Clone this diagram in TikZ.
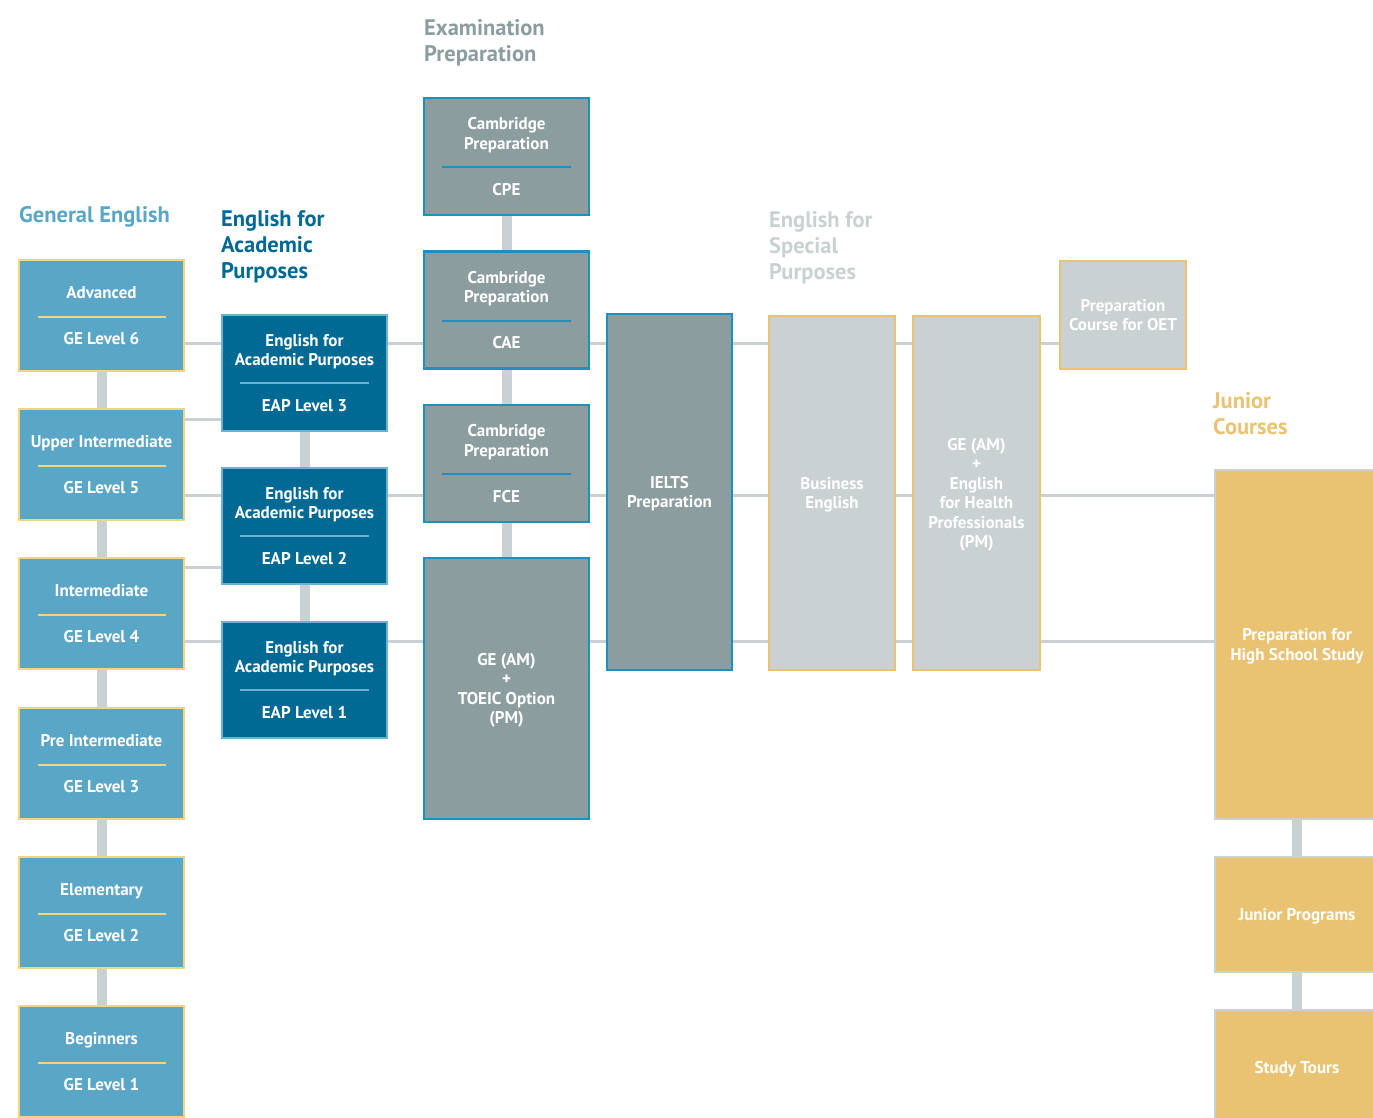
\documentclass[tikz,border=0pt]{standalone}
\usepackage{fontspec}
\setmainfont{PT Sans}
\usetikzlibrary{backgrounds}

\definecolor{geblue}{RGB}{90,166,199}
\definecolor{eapblue}{RGB}{0,106,149}
\definecolor{eapline}{RGB}{110,176,210}
\definecolor{examgray}{RGB}{140,157,160}
\definecolor{examline}{RGB}{28,145,192}
\definecolor{espgray}{RGB}{201,209,211}
\definecolor{sand}{RGB}{233,195,114}
\definecolor{paleyellow}{RGB}{245,212,125}
\definecolor{linkgray}{RGB}{201,209,211}

\tikzset{
    box/.style={rectangle, inner sep=0pt, text=white, align=center, text depth=0pt,
        font=\fontsize{17}{19.5}\selectfont\bfseries},
    gebox/.style={box, fill=geblue, draw=paleyellow, line width=2pt,
        minimum width=165pt, minimum height=111pt,
        path picture={\draw[paleyellow, line width=2pt]
            ([xshift=18.5pt,yshift=-1.5pt]path picture bounding box.west) --
            ([xshift=-18.5pt,yshift=-1.5pt]path picture bounding box.east);}},
    eapbox/.style={box, fill=eapblue, draw=eapline, line width=2.5pt,
        minimum width=165pt, minimum height=116pt,
        path picture={\draw[eapline, line width=2pt]
            ([xshift=18pt,yshift=-10pt]path picture bounding box.west) --
            ([xshift=-18pt,yshift=-10pt]path picture bounding box.east);}},
    exambox/.style={box, fill=examgray, draw=examline, line width=2.5pt,
        minimum width=165pt, minimum height=117pt,
        path picture={\draw[examline, line width=2pt]
            ([xshift=18pt,yshift=-10.5pt]path picture bounding box.west) --
            ([xshift=-18pt,yshift=-10.5pt]path picture bounding box.east);}},
    tallbox/.style={box, fill=examgray, draw=examline, line width=2.5pt},
    espbox/.style={box, fill=espgray, draw=sand, line width=2.5pt},
    junbox/.style={box, fill=sand, draw=linkgray, line width=2.5pt,
        minimum width=164pt},
    head/.style={anchor=north west, inner sep=0pt, align=left,
        font=\fontsize{22.5}{26}\selectfont\bfseries},
    hlink/.style={linkgray, line width=3pt},
    vlink/.style={linkgray, line width=10pt},
}

\begin{document}
\begin{tikzpicture}[x=1pt,y=-1pt]
    \useasboundingbox (0,0) rectangle (1373,1117);
    % column headings
    \node[head, text=geblue, anchor=base west] (hge) at (19,222) {General English};
    \node[head, text=eapblue] (heap) at (221,210) {English for\\Academic\\Purposes};
    \node[head, text=examgray] (hexam) at (424,19.5) {Examination\\Preparation};
    \node[head, text=espgray] (hesp) at (769,211) {English for\\Special\\Purposes};
    \node[head, text=sand] (hjun) at (1213,392) {Junior\\Courses};
    % general english
    \node[gebox] (ge6) at (101.5,315.5) {Advanced\\[26.5pt]GE Level 6};
    \node[gebox] (ge5) at (101.5,464.5) {Upper Intermediate\\[26.5pt]GE Level 5};
    \node[gebox] (ge4) at (101.5,613.5) {Intermediate\\[26.5pt]GE Level 4};
    \node[gebox] (ge3) at (101.5,763.5) {Pre Intermediate\\[26.5pt]GE Level 3};
    \node[gebox] (ge2) at (101.5,912.5) {Elementary\\[26.5pt]GE Level 2};
    \node[gebox] (ge1) at (101.5,1061.5) {Beginners\\[26.5pt]GE Level 1};
    % academic purposes
    \node[eapbox] (eap3) at (304.5,373) {English for\\Academic Purposes\\[26.5pt]EAP Level 3};
    \node[eapbox] (eap2) at (304.5,526) {English for\\Academic Purposes\\[26.5pt]EAP Level 2};
    \node[eapbox] (eap1) at (304.5,680) {English for\\Academic Purposes\\[26.5pt]EAP Level 1};
    % examination preparation
    \node[exambox] (cpe) at (506.5,156.5) {Cambridge\\Preparation\\[26.5pt]CPE};
    \node[exambox] (cae) at (506.5,310) {Cambridge\\Preparation\\[26.5pt]CAE};
    \node[exambox] (fce) at (506.5,463.5) {Cambridge\\Preparation\\[26.5pt]FCE};
    \node[tallbox, minimum width=165pt, minimum height=261pt] (toeic) at (506.5,688.5)
        {GE (AM)\\+\\TOEIC Option\\(PM)};
    \node[tallbox, minimum width=125pt, minimum height=356pt] (ielts) at (669.5,492)
        {IELTS\\Preparation};
    % special purposes
    \node[espbox, minimum width=126pt, minimum height=354pt] (busi) at (832,493)
        {Business\\English};
    \node[espbox, minimum width=127pt, minimum height=354pt] (health) at (976.5,493)
        {GE (AM)\\+\\English\\for Health\\Professionals\\(PM)};
    \node[espbox, minimum width=126pt, minimum height=108pt] (oet) at (1123,315)
        {Preparation\\Course for OET};
    % junior courses
    \node[junbox, minimum height=349pt] (jhs) at (1297,644.5)
        {Preparation for\\High School Study};
    \node[junbox, minimum height=115pt] (jpro) at (1297,914.5) {Junior Programs};
    \node[junbox, minimum height=115pt] (jtour) at (1297,1067.5) {Study Tours};
    % connectors
    \coordinate (laneA) at (0,343);
    \coordinate (laneB) at (0,419);
    \coordinate (laneC) at (0,495);
    \coordinate (laneD) at (0,567);
    \coordinate (laneE) at (0,641);
    \begin{scope}[on background layer]
        \draw[hlink] (ge6.east |- laneA) -- (oet.west |- laneA);
        \draw[hlink] (ge5.east |- laneB) -- (eap3.west |- laneB);
        \draw[hlink] (ge5.east |- laneC) -- (jhs.west |- laneC);
        \draw[hlink] (ge4.east |- laneD) -- (eap2.west |- laneD);
        \draw[hlink] (ge4.east |- laneE) -- (jhs.west |- laneE);
        \draw[vlink] (ge6) -- (ge5) -- (ge4) -- (ge3) -- (ge2) -- (ge1);
        \draw[vlink] (eap3) -- (eap2) -- (eap1);
        \draw[vlink] (cpe) -- (cae) -- (fce) -- (toeic);
        \draw[vlink] (jhs) -- (jpro) -- (jtour);
    \end{scope}
\end{tikzpicture}
\end{document}
